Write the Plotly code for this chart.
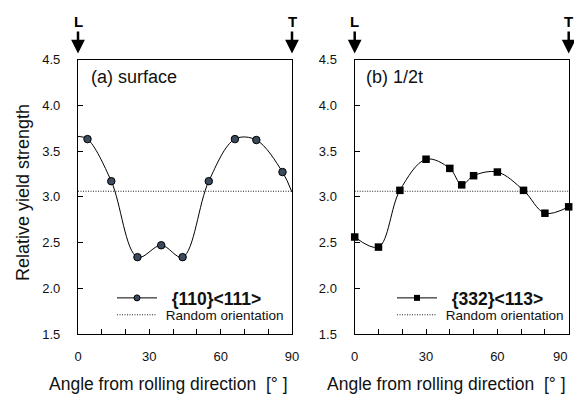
import plotly.graph_objects as go

# ---- data ----
a_angles = [4, 14, 25, 35, 44, 55, 66, 75, 86]
a_values = [3.63, 3.17, 2.34, 2.47, 2.34, 3.17, 3.63, 3.62, 3.27]
a_curve_x = [0] + a_angles + [90]
a_curve_y = [3.66] + a_values + [3.05]

b_angles = [0, 10, 19, 30, 40, 45, 50, 60, 71, 80, 90]
b_values = [2.56, 2.45, 3.07, 3.41, 3.31, 3.13, 3.23, 3.27, 3.07, 2.82, 2.89]

random_level = 3.06
random_x = [0, 90]

x_ticks = [0, 30, 60, 90]
x_ticktext_a = ["0", "30", "60", "90"]
x_ticktext_b = ["0", "30", "60", ""]
y_ticks = [1.5, 2.0, 2.5, 3.0, 3.5, 4.0, 4.5]

FONT = "Liberation Sans, Arial, sans-serif"
W, H = 574, 396
DOT = "1px,1.5px"

fig = go.Figure()

# panel (a)
fig.add_trace(go.Scatter(x=a_curve_x, y=a_curve_y, mode="lines", line=dict(color="black", width=1, shape="spline"),
                         xaxis="x", yaxis="y", showlegend=False, hoverinfo="skip"))
fig.add_trace(go.Scatter(x=random_x, y=[random_level] * 2, mode="lines", line=dict(color="#222", width=1, dash=DOT),
                         xaxis="x", yaxis="y", showlegend=False))
fig.add_trace(go.Scatter(x=a_angles, y=a_values, mode="markers",
                         marker=dict(symbol="circle", size=7.5, color="#3c4a5e", line=dict(color="black", width=1)),
                         xaxis="x", yaxis="y", showlegend=False, cliponaxis=False))
fig.add_trace(go.Scatter(x=[None], y=[None], mode="lines+markers",
                         name="\u00a0\u00a0<b>{110}&lt;111&gt;</b>",
                         line=dict(color="black", width=1),
                         marker=dict(symbol="circle", size=6, color="#3c4a5e", line=dict(color="black", width=1)),
                         xaxis="x", yaxis="y", legend="legend"))
fig.add_trace(go.Scatter(x=[None], y=[None], mode="lines", name="\u00a0Random orientation",
                         line=dict(color="#222", width=1, dash=DOT), xaxis="x", yaxis="y", legend="legend2"))

# panel (b)
fig.add_trace(go.Scatter(x=b_angles, y=b_values, mode="lines", line=dict(color="black", width=1, shape="spline"),
                         xaxis="x2", yaxis="y2", showlegend=False, hoverinfo="skip"))
fig.add_trace(go.Scatter(x=random_x, y=[random_level] * 2, mode="lines", line=dict(color="#222", width=1, dash=DOT),
                         xaxis="x2", yaxis="y2", showlegend=False))
fig.add_trace(go.Scatter(x=b_angles, y=b_values, mode="markers",
                         marker=dict(symbol="square", size=7.5, color="black"),
                         xaxis="x2", yaxis="y2", showlegend=False, cliponaxis=False))
fig.add_trace(go.Scatter(x=[None], y=[None], mode="lines+markers",
                         name="\u00a0\u00a0<b>{332}&lt;113&gt;</b>",
                         line=dict(color="black", width=1),
                         marker=dict(symbol="square", size=6, color="black"),
                         xaxis="x2", yaxis="y2", legend="legend3"))
fig.add_trace(go.Scatter(x=[None], y=[None], mode="lines", name="\u00a0Random orientation",
                         line=dict(color="#222", width=1, dash=DOT), xaxis="x2", yaxis="y2", legend="legend4"))

ydom = [(H - 334) / H, (H - 59.5) / H]
xdom1 = [78 / W, 292 / W]
xdom2 = [354.7 / W, 568.7 / W]

xcommon = dict(range=[0, 90], tickvals=x_ticks, showline=True, mirror=True, linecolor="black", linewidth=1.3,
               ticks="inside", ticklen=5, tickcolor="black", showgrid=False, zeroline=False,
               tickfont=dict(family=FONT, size=13, color="#111"), ticklabelstandoff=10, ticklabeloverflow="allow",
               minor=dict(dtick=10, ticks="inside", ticklen=5, tickcolor="black", showgrid=False),
               automargin=False, fixedrange=True)
ycommon = dict(range=[1.5, 4.5], tickvals=y_ticks, tickformat=".1f", showline=True, mirror=True, linecolor="black",
               linewidth=1.3, ticks="inside", ticklen=5, tickcolor="black", showgrid=False, zeroline=False,
               tickfont=dict(family=FONT, size=13, color="#111"), ticklabelstandoff=14, ticklabeloverflow="allow",
               automargin=False, fixedrange=True)

legcommon = dict(xanchor="left", yanchor="middle", bgcolor="rgba(0,0,0,0)", itemwidth=40, tracegroupgap=0)
big = dict(family=FONT, size=17.5, color="#111")
small = dict(family=FONT, size=13.5, color="#111")
row1 = (H - 298) / H
row2 = (H - 315) / H

fig.update_layout(
    width=W, height=H, margin=dict(l=0, r=0, t=0, b=0),
    paper_bgcolor="white", plot_bgcolor="white",
    font=dict(family=FONT, color="#111"),
    xaxis=dict(domain=xdom1, anchor="y", ticktext=x_ticktext_a, **xcommon),
    yaxis=dict(domain=ydom, anchor="x", **ycommon),
    xaxis2=dict(domain=xdom2, anchor="y2", ticktext=x_ticktext_b, **xcommon),
    yaxis2=dict(domain=ydom, anchor="x2", **ycommon),
    legend=dict(x=112 / W, y=row1, font=big, **legcommon),
    legend2=dict(x=112 / W, y=row2, font=small, **legcommon),
    legend3=dict(x=392 / W, y=row1, font=big, **legcommon),
    legend4=dict(x=392 / W, y=row2, font=small, **legcommon),
)

ann = []
ann.append(dict(text="(a) surface", x=0.05, y=0.936, xref="x domain", yref="y domain", xanchor="left", yanchor="middle",
                showarrow=False, font=dict(family=FONT, size=18, color="#111")))
ann.append(dict(text="(b) 1/2t", x=0.045, y=0.936, xref="x2 domain", yref="y2 domain", xanchor="left", yanchor="middle",
                showarrow=False, font=dict(family=FONT, size=18, color="#111")))
# last tick label of panel (b), kept inside the page like the reference
ann.append(dict(text="90", x=90, xref="x2", y=(H - 356.5) / H, yref="paper", xanchor="right", yanchor="middle",
                showarrow=False, font=dict(family=FONT, size=13, color="#111")))
for cx in (168.5, 446.5):
    ann.append(dict(text="Angle from rolling direction&nbsp;&nbsp;[° ]", x=cx / W, y=(H - 384) / H, xref="paper", yref="paper",
                    xanchor="center", yanchor="middle", showarrow=False, font=dict(family=FONT, size=17.5, color="#111")))
ann.append(dict(text="Relative yield strength", x=23 / W, y=(H - 193) / H, xref="paper", yref="paper", textangle=-90,
                xanchor="center", yanchor="middle", showarrow=False, font=dict(family=FONT, size=18, color="#111")))
for xr, yr in (("x", "y domain"), ("x2", "y2 domain")):
    for xv, lab in ((0, "L"), (90, "T")):
        ann.append(dict(text="<b>%s</b>" % lab, x=xv, y=1, xref=xr, yref=yr, ax=0, ay=-38, showarrow=True,
                        arrowhead=2, arrowsize=1.1, arrowwidth=2.5, arrowcolor="black", standoff=6,
                        font=dict(family=FONT, size=15, color="black")))
fig.update_layout(annotations=ann)

fig.write_html("out.html")
